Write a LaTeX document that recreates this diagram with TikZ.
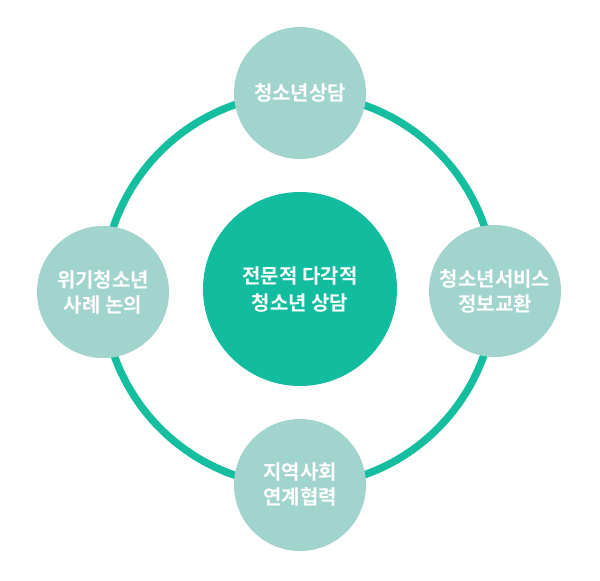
\documentclass[tikz,border=0pt]{standalone}
\usepackage{fontspec}
\newfontfamily\kr{Noto Sans CJK KR}[BoldFont={* Bold}]
\usetikzlibrary{positioning}
\definecolor{ringgreen}{HTML}{14BE9F}
\definecolor{mainfill}{HTML}{12BC9F}
\definecolor{subfill}{HTML}{A2D4CE}

\begin{document}
\begin{tikzpicture}[x=1pt, y=-1pt,
		every node/.style={font=\kr\bfseries, text=white, align=center},
		sub/.style={circle, fill=subfill, minimum size=132pt, inner sep=0pt, font=\kr\bfseries\fontsize{20}{25}\selectfont},
		main/.style={circle, fill=mainfill, minimum size=194pt, inner sep=0pt, font=\kr\bfseries\fontsize{20}{27}\selectfont}]
		\useasboundingbox (0,0) rectangle (600,581);
		\coordinate (mid) at (299,290);
		\draw[ringgreen, line width=7.5pt] (mid) circle (196);
		\node[main](core) at (300,289) {전문적 다각적\\청소년 상담};
		\node[sub](top) at (300,93) {청소년상담};
		\node[sub](left) at (103,292) {위기청소년\\사례 논의};
		\node[sub](right) at (495,291) {청소년서비스\\정보교환};
		\node[sub](bottom) at (300,485) {지역사회\\연계협력};
	\end{tikzpicture}
\end{document}
